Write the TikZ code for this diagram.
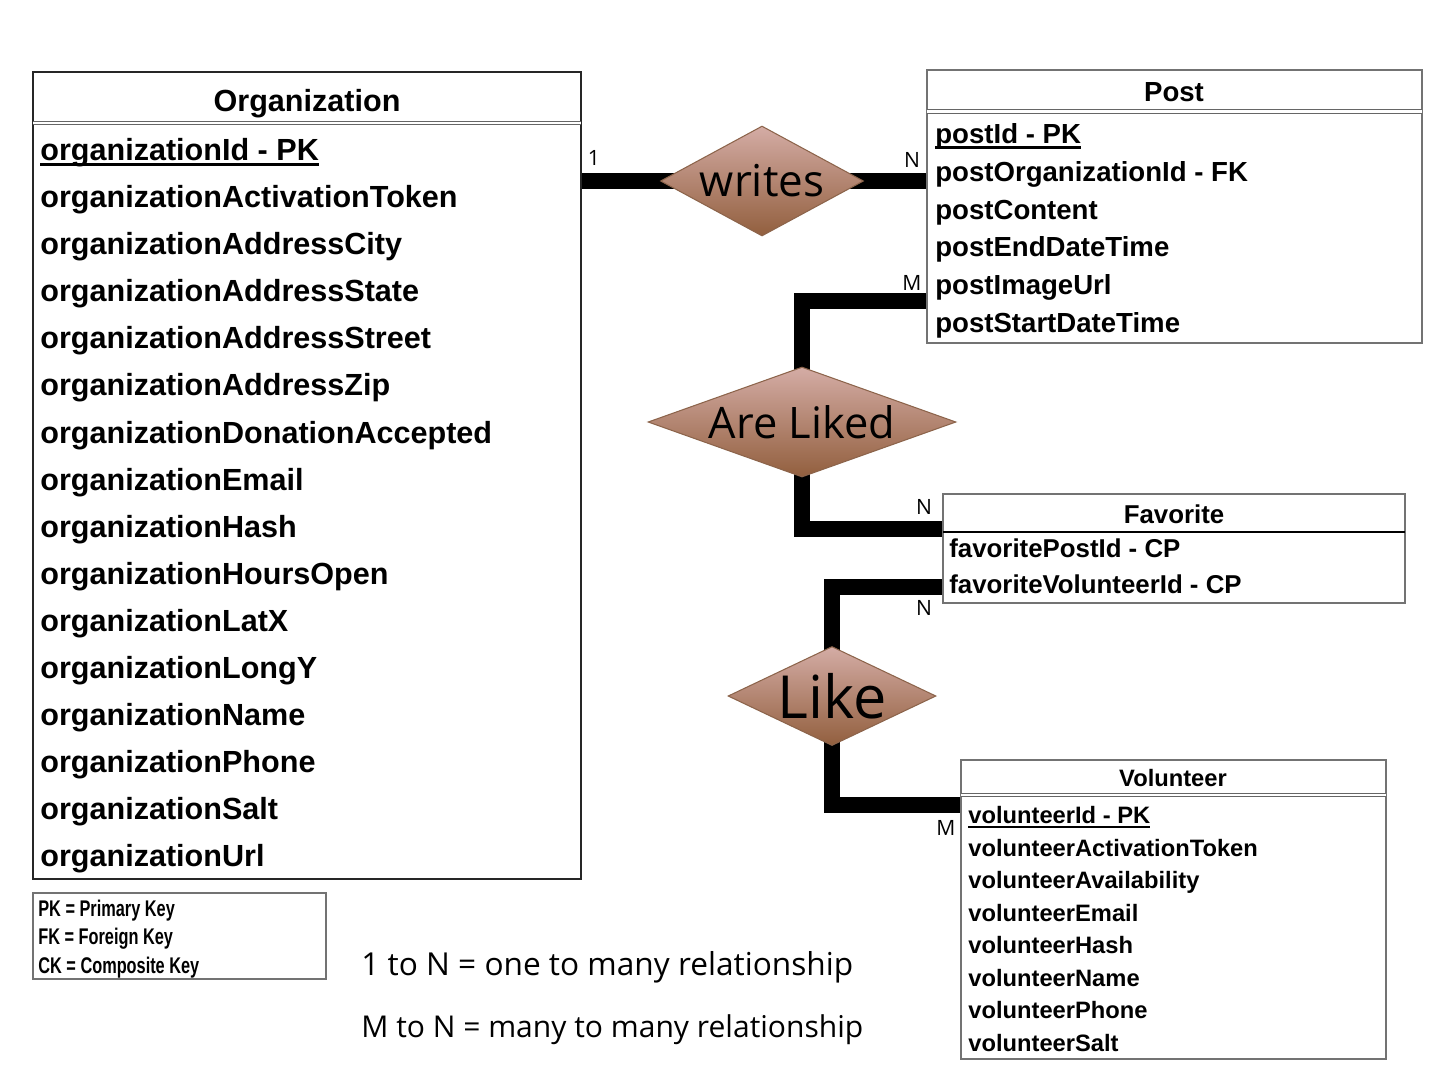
\documentclass[tikz,border=0pt]{standalone}
\usepackage{fontspec}
\setmainfont{Liberation Sans}
\newfontfamily\narrowfont[FakeStretch=0.72]{Liberation Sans}
\newfontfamily\notefont{Open Sans}
\usetikzlibrary{shapes.geometric,backgrounds}
\definecolor{reltop}{RGB}{212,172,165}
\definecolor{relbottom}{RGB}{146,95,62}
\definecolor{relborder}{RGB}{140,100,75}
\newcommand{\pkey}[1]{\setbox0\hbox{#1}\rlap{\rule[-0.2em]{\wd0}{0.09em}}\box0}

\begin{document}
\begin{tikzpicture}[x=0.02cm, y=-0.02cm,
    table/.style={rectangle, draw=black!55, line width=1pt, inner sep=0pt},
    orgattr/.style={anchor=base west, inner sep=0pt, font=\bfseries\fontsize{17.4}{20}\selectfont},
    postattr/.style={anchor=base west, inner sep=0pt, font=\bfseries\fontsize{15.7}{18}\selectfont},
    favattr/.style={anchor=base west, inner sep=0pt, font=\bfseries\fontsize{14.7}{17}\selectfont},
    volattr/.style={anchor=base west, inner sep=0pt, font=\bfseries\fontsize{13.5}{16}\selectfont},
    keyattr/.style={anchor=base west, inner sep=0pt, font=\narrowfont\bfseries\fontsize{12.9}{15}\selectfont},
    relship/.style={diamond, draw=relborder, line width=0.6pt, top color=reltop, bottom color=relbottom, inner sep=0pt},
    relline/.style={line width=9.5pt},
    sepline/.style={draw=black!60, double=white, double distance=1.2pt, line width=0.7pt},
    card/.style={inner sep=0pt, font=\notefont\fontsize{12}{14}\selectfont},
    note/.style={anchor=base west, inner sep=0pt, font=\notefont\fontsize{18}{22}\selectfont}]

    \useasboundingbox (0,0) rectangle (1440,1080);

    % Tables
    \node[table, draw=black!85, line width=1.6pt, minimum width=10.96cm, minimum height=16.14cm] (org) at (307,475.5) {};
    \node[table, line width=1.2pt, minimum width=9.9cm, minimum height=5.46cm] (post) at (1174.5,206.5) {};
    \node[table, line width=0.9pt, minimum width=9.24cm, minimum height=2.18cm] (fav) at (1174,548.5) {};
    \node[table, line width=1.1pt, minimum width=8.5cm, minimum height=5.98cm] (vol) at (1173.5,909.5) {};
    \node[table, line width=0.9pt, minimum width=5.86cm, minimum height=1.72cm] (keys) at (179.5,936) {};

    % Header separators
    \draw[sepline] (33,123) -- (581,123);
    \draw[sepline] (927,111.5) -- (1422,111.5);
    \draw[line width=1.6pt] (943,532) -- (1405,532);
    \draw[sepline] (961,795) -- (1386,795);

    % Organization
    \node[orgattr, anchor=base] (orgTitle) at (307,111) {Organization};
    \node[orgattr] (orgId) at (40,160) {\pkey{organizationId - PK}};
    \node[orgattr] (orgToken) at (40,207) {organizationActivationToken};
    \node[orgattr] (orgCity) at (40,254) {organizationAddressCity};
    \node[orgattr] (orgState) at (40,301) {organizationAddressState};
    \node[orgattr] (orgStreet) at (40,348) {organizationAddressStreet};
    \node[orgattr] (orgZip) at (40,395) {organizationAddressZip};
    \node[orgattr] (orgDonation) at (40,443) {organizationDonationAccepted};
    \node[orgattr] (orgEmail) at (40,490) {organizationEmail};
    \node[orgattr] (orgHash) at (40,537) {organizationHash};
    \node[orgattr] (orgHours) at (40,584) {organizationHoursOpen};
    \node[orgattr] (orgLat) at (40,631) {organizationLatX};
    \node[orgattr] (orgLong) at (40,678) {organizationLongY};
    \node[orgattr] (orgName) at (40,725) {organizationName};
    \node[orgattr] (orgPhone) at (40,772) {organizationPhone};
    \node[orgattr] (orgSalt) at (40,819) {organizationSalt};
    \node[orgattr] (orgUrl) at (40,866) {organizationUrl};

    % Post
    \node[postattr, anchor=base] (postTitle) at (1174,101) {Post};
    \node[postattr] (postId) at (935,143) {\pkey{postId - PK}};
    \node[postattr] (postOrg) at (935,181) {postOrganizationId - FK};
    \node[postattr] (postContent) at (935,219) {postContent};
    \node[postattr] (postEnd) at (935,256) {postEndDateTime};
    \node[postattr] (postImage) at (935,294) {postImageUrl};
    \node[postattr] (postStart) at (935,332) {postStartDateTime};

    % Favorite
    \node[favattr, anchor=base] (favTitle) at (1174,523) {Favorite};
    \node[favattr] (favPost) at (949,557) {favoritePostId - CP};
    \node[favattr] (favVol) at (949,593) {favoriteVolunteerId - CP};

    % Volunteer
    \node[volattr, anchor=base] (volTitle) at (1173,786) {Volunteer};
    \node[volattr] (volId) at (968,823) {\pkey{volunteerId - PK}};
    \node[volattr] (volToken) at (968,856) {volunteerActivationToken};
    \node[volattr] (volAvail) at (968,888) {volunteerAvailability};
    \node[volattr] (volEmail) at (968,921) {volunteerEmail};
    \node[volattr] (volHash) at (968,953) {volunteerHash};
    \node[volattr] (volName) at (968,986) {volunteerName};
    \node[volattr] (volPhone) at (968,1018) {volunteerPhone};
    \node[volattr] (volSalt) at (968,1051) {volunteerSalt};

    % Key legend
    \node[keyattr] (keyPK) at (38,916) {PK = Primary Key};
    \node[keyattr] (keyFK) at (38,944.5) {FK = Foreign Key};
    \node[keyattr] (keyCK) at (38,973) {CK = Composite Key};

    % Relationships
    \node[relship, minimum width=4.06cm, minimum height=2.2cm] (writes) at (762,181) {};
    \node[relship, minimum width=6.16cm, minimum height=2.2cm] (liked) at (802,422) {};
    \node[relship, minimum width=4.16cm, minimum height=1.98cm] (like) at (832,696) {};
    \node[font=\notefont\fontsize{25}{30}\selectfont] (writesText) at (writes) {writes};
    \node[font=\notefont\fontsize{24.7}{30}\selectfont] (likedText) at (liked) {Are Liked};
    \node[font=\notefont\fontsize{33.8}{40}\selectfont] (likeText) at (like) {Like};

    % Connector ends on the tables
    \coordinate (postIn) at (927,301);
    \coordinate (favIn) at (943,529);
    \coordinate (favOut) at (943,587);
    \coordinate (volIn) at (961,805);

    % Draw the connectors behind the diamonds
    \begin{pgfonlayer}{background}
    \draw[relline] (org.east |- writes) -- (writes.center);
    \draw[relline] (writes.center) -- (post.west |- writes);
    \draw[relline] (postIn) -| (liked.center);
    \draw[relline] (liked.center) |- (favIn);
    \draw[relline] (favOut) -| (like.center);
    \draw[relline] (like.center) |- (volIn);
    \end{pgfonlayer}

    % Cardinalities
    \node[card] (c1) at (594,158) {1};
    \node[card] (cN1) at (912,160) {N};
    \node[card] (cM1) at (912,283) {M};
    \node[card] (cN2) at (924,507) {N};
    \node[card] (cN3) at (924,608) {N};
    \node[card] (cM2) at (946,828) {M};

    % Notes
    \node[note] (oneToMany) at (361,975) {1 to N = one to many relationship};
    \node[note, font=\notefont\fontsize{17.1}{22}\selectfont] (manyToMany) at (361,1037) {M to N = many to many relationship};

\end{tikzpicture}
\end{document}
